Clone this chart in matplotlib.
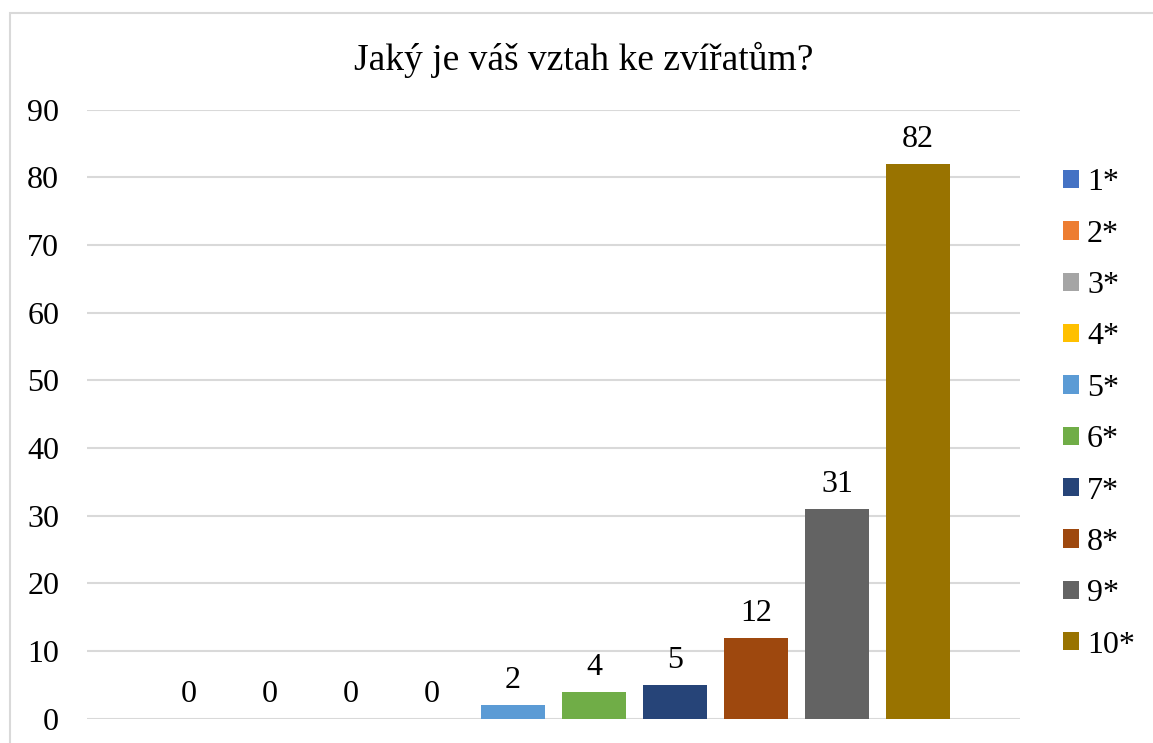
import matplotlib
matplotlib.use("Agg")
import matplotlib.pyplot as plt
from matplotlib.patches import Rectangle

# data
title = "Jaký je váš vztah ke zvířatům?"
labels = ["1*", "2*", "3*", "4*", "5*", "6*", "7*", "8*", "9*", "10*"]
values = [0, 0, 0, 0, 2, 4, 5, 12, 31, 82]
colors = ["#4472C4", "#ED7D31", "#A5A5A5", "#FFC000", "#5B9BD5",
          "#70AD47", "#264478", "#9E480E", "#636363", "#997300"]
yticks = [0, 10, 20, 30, 40, 50, 60, 70, 80, 90]

plt.rcParams['font.family'] = ['Liberation Serif', 'DejaVu Serif']

W, H = 1153, 743
fig = plt.figure(figsize=(W / 100, H / 100), dpi=100)

# outer chart border (only left and top edges fall inside the image)
fig.patches.append(Rectangle((10 / W, -0.05), 1.1, 1.05 - 13 / H,
                             transform=fig.transFigure, fill=False,
                             edgecolor="#D9D9D9", linewidth=1.5))

ax = fig.add_axes([87 / W, (H - 718.7) / H, (1020 - 87) / W, (718.7 - 109.7) / H])

handles = []
for i, (lab, v, c) in enumerate(zip(labels, values, colors)):
    b = ax.bar(i, v, width=0.79, color=c, label=lab, zorder=3)
    handles.append(b)
    ax.annotate(str(v), (i, v), xytext=(0, 7), textcoords="offset points",
                ha="center", va="bottom", fontsize=23)

ax.set_xlim(-1.259, 10.259)
ax.set_ylim(0, 90)
ax.set_yticks(yticks)
ax.set_xticks([])
ax.tick_params(axis="y", length=0, pad=20, labelsize=23)
ax.yaxis.grid(True, color="#D9D9D9", linewidth=1.5, zorder=0)
for s in ax.spines.values():
    s.set_visible(False)

fig.text(584 / W, 1 - 60 / H, title, ha="center", va="center", fontsize=27)

fig.legend(handles=handles, labels=labels, loc="center left",
           bbox_to_anchor=(1063 / W, (H - 414) / H), frameon=False,
           fontsize=23, handlelength=0.5, handleheight=0.5,
           handletextpad=0.25, labelspacing=0.7, borderpad=0, borderaxespad=0)

fig.savefig("out.png", dpi=100)
